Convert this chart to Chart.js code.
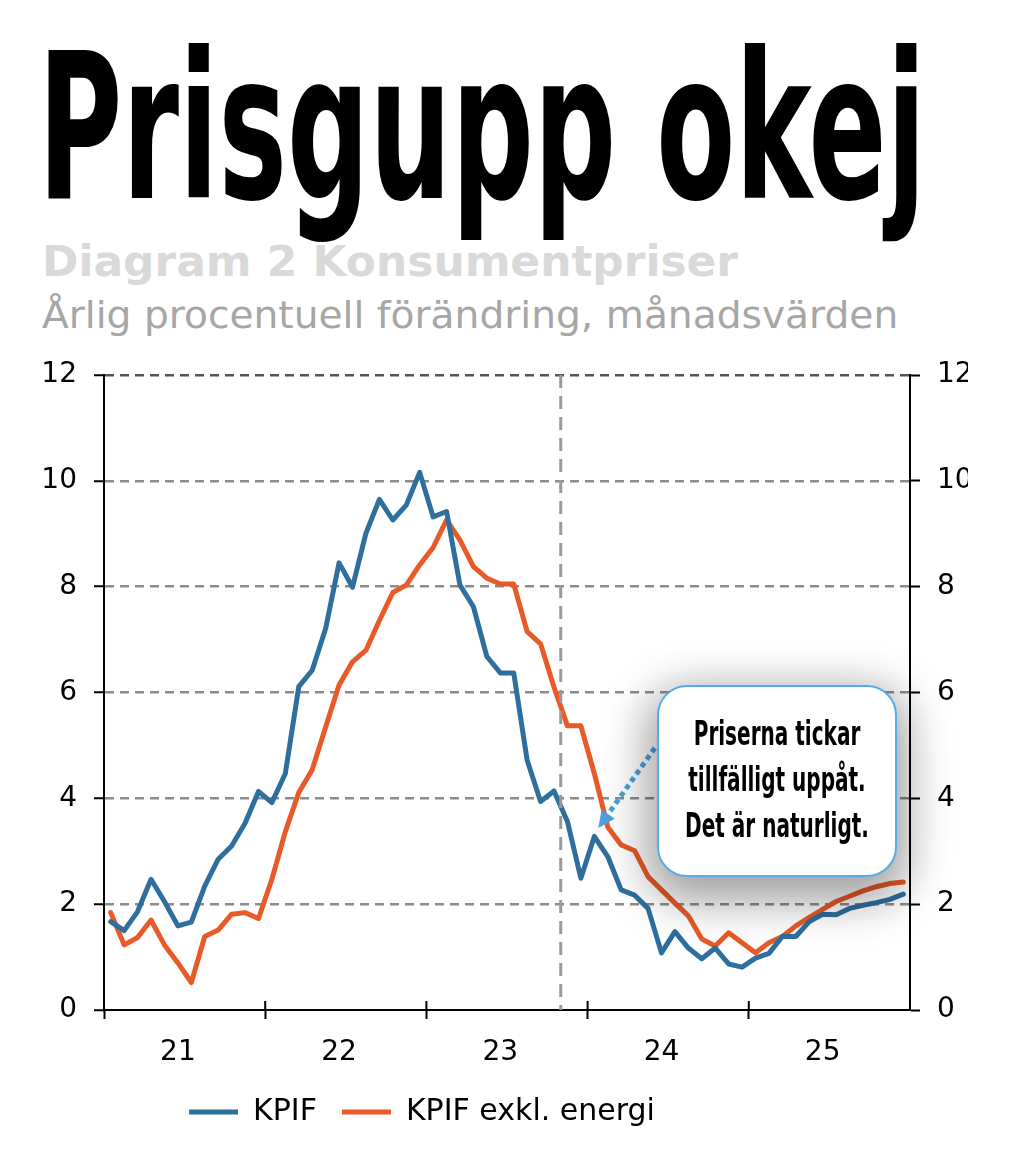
<!DOCTYPE html>
<html lang="sv">
<head>
<meta charset="utf-8">
<title>Prisgupp okej</title>
<script src="https://cdn.jsdelivr.net/npm/chart.js@4.4.1/dist/chart.umd.min.js"></script>
<style>
  html, body { margin: 0; padding: 0; background: #fff; }
  body { width: 1014px; height: 1164px; position: relative; overflow: hidden; font-family: "DejaVu Sans", Verdana, sans-serif; }
  .rubrik { position: absolute; left: 38px; top: 26px; font: bold 204px/1 "Liberation Sans Narrow", "DejaVu Sans Condensed", "Arial Narrow", sans-serif; font-stretch: condensed; color: #000; white-space: nowrap; transform-origin: 0 0; }
  .diagram { position: absolute; left: 42px; top: 241px; font: bold 42px/1 "DejaVu Sans", Verdana, sans-serif; color: #d9d9d9; white-space: nowrap; transform-origin: 0 0; }
  .enhet { position: absolute; left: 42px; top: 296px; font: 38px/1 "DejaVu Sans", Verdana, sans-serif; color: #a6a6a6; white-space: nowrap; transform-origin: 0 0; }
  #ram { position: absolute; left: 0; top: 340px; width: 968px; height: 824px; overflow: hidden; }
  #grafik { position: absolute; left: -200px; top: 0; }
  .bubbla { position: absolute; left: 657px; top: 685px; width: 236px; height: 188px; border: 2px solid #58ace6; border-radius: 30px; background: #fff; box-shadow: 0 14px 45px 10px rgba(0,0,0,0.38); }
  .bubbla div { position: absolute; left: 50%; top: 23px; text-align: center; font: bold 34px/46px "Liberation Sans Narrow", "DejaVu Sans Condensed", "Arial Narrow", sans-serif; font-stretch: condensed; color: #000; white-space: nowrap; transform-origin: 50% 0; }
</style>
</head>
<body>
<div class="rubrik" id="rubrik">Prisgupp okej</div>
<div class="diagram" id="diagram">Diagram 2 Konsumentpriser</div>
<div class="enhet" id="enhet">Årlig procentuell förändring, månadsvärden</div>
<div id="ram"><canvas id="grafik" width="1244" height="824"></canvas></div>
<div class="bubbla"><div id="bubbeltext">Priserna tickar<br>tillfälligt uppåt.<br>Det är naturligt.</div></div>

<script>
// månader jan 2021 - dec 2025
const manader = [
  'jan 21','feb 21','mar 21','apr 21','maj 21','jun 21','jul 21','aug 21','sep 21','okt 21','nov 21','dec 21',
  'jan 22','feb 22','mar 22','apr 22','maj 22','jun 22','jul 22','aug 22','sep 22','okt 22','nov 22','dec 22',
  'jan 23','feb 23','mar 23','apr 23','maj 23','jun 23','jul 23','aug 23','sep 23','okt 23','nov 23','dec 23',
  'jan 24','feb 24','mar 24','apr 24','maj 24','jun 24','jul 24','aug 24','sep 24','okt 24','nov 24','dec 24',
  'jan 25','feb 25','mar 25','apr 25','maj 25','jun 25','jul 25','aug 25','sep 25','okt 25','nov 25','dec 25'
];
const arsEtiketter = ['21', '22', '23', '24', '25'];

const kpif = [
  1.67, 1.50, 1.86, 2.47, 2.05, 1.59, 1.66, 2.34, 2.85, 3.10, 3.53, 4.13,
  3.92, 4.47, 6.11, 6.42, 7.21, 8.45, 7.99, 9.01, 9.65, 9.26, 9.54, 10.16,
  9.32, 9.42, 8.03, 7.62, 6.68, 6.37, 6.37, 4.72, 3.94, 4.14, 3.56, 2.49,
  3.28, 2.90, 2.27, 2.17, 1.92, 1.08, 1.48, 1.17, 0.97, 1.17, 0.87, 0.81,
  0.98, 1.07, 1.39, 1.39, 1.67, 1.81, 1.80, 1.92, 1.98, 2.03, 2.09, 2.19
];
const kpifExklEnergi = [
  1.84, 1.23, 1.37, 1.70, 1.23, 0.89, 0.52, 1.39, 1.51, 1.81, 1.84, 1.73,
  2.47, 3.37, 4.11, 4.54, 5.35, 6.14, 6.58, 6.80, 7.36, 7.89, 8.03, 8.41,
  8.74, 9.26, 8.88, 8.38, 8.16, 8.05, 8.05, 7.15, 6.92, 6.10, 5.37, 5.37,
  4.47, 3.46, 3.12, 3.01, 2.52, 2.27, 2.02, 1.78, 1.34, 1.21, 1.46, 1.27,
  1.08, 1.27, 1.39, 1.59, 1.75, 1.90, 2.05, 2.15, 2.25, 2.33, 2.39, 2.42
];

// prognosen börjar efter okt 2023
const prognosStart = 33.5;
// pilen från pratbubblan: [månadsindex, värde]
const pilStart = [40.5, 4.95];
const pilSpets = [36.3, 3.44];

const bla = '#2e6f9e';
const orange = '#e85a28';
const typsnitt = 'DejaVu Sans';

// skala texter till rätt bredd
function passa(el, bredd, fore) {
  el.style.transform = (fore || '') + 'scaleX(' + (bredd / el.offsetWidth) + ')';
}
passa(document.getElementById('rubrik'), 888);
passa(document.getElementById('diagram'), 696);
passa(document.getElementById('enhet'), 856);
passa(document.getElementById('bubbeltext'), 184, 'translateX(-50%) ');

const markeringar = {
  id: 'markeringar',
  afterDatasetsDraw(chart) {
    const { ctx, chartArea, scales: { x, y } } = chart;
    ctx.save();

    // streckad lodrät linje
    const px = x.getPixelForValue(prognosStart);
    ctx.strokeStyle = '#9a9a9a';
    ctx.lineWidth = 3;
    ctx.setLineDash([13, 8]);
    ctx.beginPath();
    ctx.moveTo(px, chartArea.top);
    ctx.lineTo(px, chartArea.bottom);
    ctx.stroke();

    // årsmarkeringar även ovanför x-axeln
    ctx.setLineDash([]);
    ctx.strokeStyle = '#000';
    ctx.lineWidth = 2;
    ctx.beginPath();
    for (let i = 12; i < manader.length; i += 12) {
      const tx = x.getPixelForValue(i - 0.5);
      ctx.moveTo(tx, chartArea.bottom - 9);
      ctx.lineTo(tx, chartArea.bottom);
    }
    ctx.stroke();

    // prickig pil
    const x0 = x.getPixelForValue(pilStart[0]), y0 = y.getPixelForValue(pilStart[1]);
    const x1 = x.getPixelForValue(pilSpets[0]), y1 = y.getPixelForValue(pilSpets[1]);
    const vinkel = Math.atan2(y1 - y0, x1 - x0);
    const huvud = 17;
    const bx = x1 - Math.cos(vinkel) * huvud, by = y1 - Math.sin(vinkel) * huvud;
    ctx.strokeStyle = '#4aa0dd';
    ctx.fillStyle = '#4aa0dd';
    ctx.lineWidth = 5;
    ctx.setLineDash([5, 4]);
    ctx.beginPath();
    ctx.moveTo(x0, y0);
    ctx.lineTo(bx, by);
    ctx.stroke();
    ctx.setLineDash([]);
    ctx.beginPath();
    ctx.moveTo(x1, y1);
    ctx.lineTo(bx + Math.sin(vinkel) * 8, by - Math.cos(vinkel) * 8);
    ctx.lineTo(bx - Math.sin(vinkel) * 8, by + Math.cos(vinkel) * 8);
    ctx.closePath();
    ctx.fill();

    ctx.restore();
  }
};

const osynlig = 'rgba(0,0,0,0)';

new Chart(document.getElementById('grafik'), {
  type: 'line',
  data: {
    labels: manader,
    datasets: [
      { label: 'KPIF', data: kpif, borderColor: bla, backgroundColor: bla, borderWidth: 5, borderCapStyle: 'round', borderJoinStyle: 'round', pointRadius: 0, pointStyle: 'line', tension: 0 },
      { label: 'KPIF exkl. energi', data: kpifExklEnergi, borderColor: orange, backgroundColor: orange, borderWidth: 5, borderCapStyle: 'round', borderJoinStyle: 'round', pointRadius: 0, pointStyle: 'line', tension: 0 }
    ]
  },
  options: {
    responsive: false,
    animation: false,
    layout: { padding: { top: 35, bottom: 27, left: 0, right: 0 } },
    plugins: {
      tooltip: { enabled: false },
      legend: {
        position: 'bottom',
        labels: {
          usePointStyle: true,
          pointStyle: 'line',
          pointStyleWidth: 49,
          padding: 25,
          color: '#000',
          font: { family: typsnitt, size: 30 }
        }
      }
    },
    scales: {
      x: {
        type: 'category',
        offset: true,
        ticks: {
          autoSkip: false,
          maxRotation: 0,
          padding: 17,
          color: '#000',
          font: { family: typsnitt, size: 28 },
          callback: (v, i) => (i % 12 === 5 ? arsEtiketter[Math.floor(i / 12)] : '')
        },
        grid: {
          offset: true,
          drawOnChartArea: false,
          color: osynlig,
          tickLength: 9,
          tickWidth: 2,
          tickColor: (c) => (c.index % 12 === 0 ? '#000' : osynlig)
        },
        border: { color: '#000', width: 2 },
        afterFit(s) { s.height = 62; }
      },
      y: {
        position: 'left',
        min: 0,
        max: 12,
        ticks: { stepSize: 2, padding: 17, color: '#000', font: { family: typsnitt, size: 28 } },
        grid: {
          color: (c) => (c.tick && c.tick.value === 0 ? osynlig : (c.tick && c.tick.value === 12 ? '#555' : '#8c8c8c')),
          lineWidth: 2.5,
          tickColor: '#000',
          tickLength: 10,
          tickWidth: 2
        },
        border: { color: '#000', width: 2, dash: [9, 6] },
        afterFit(s) { s.width = 304; }
      },
      y2: {
        position: 'right',
        min: 0,
        max: 12,
        ticks: { stepSize: 2, padding: 17, color: '#000', font: { family: typsnitt, size: 28 } },
        grid: { drawOnChartArea: false, tickColor: '#000', tickLength: 10, tickWidth: 2 },
        border: { color: '#000', width: 2 },
        afterFit(s) { s.width = 134; }
      }
    }
  },
  plugins: [markeringar]
});
</script>
</body>
</html>
